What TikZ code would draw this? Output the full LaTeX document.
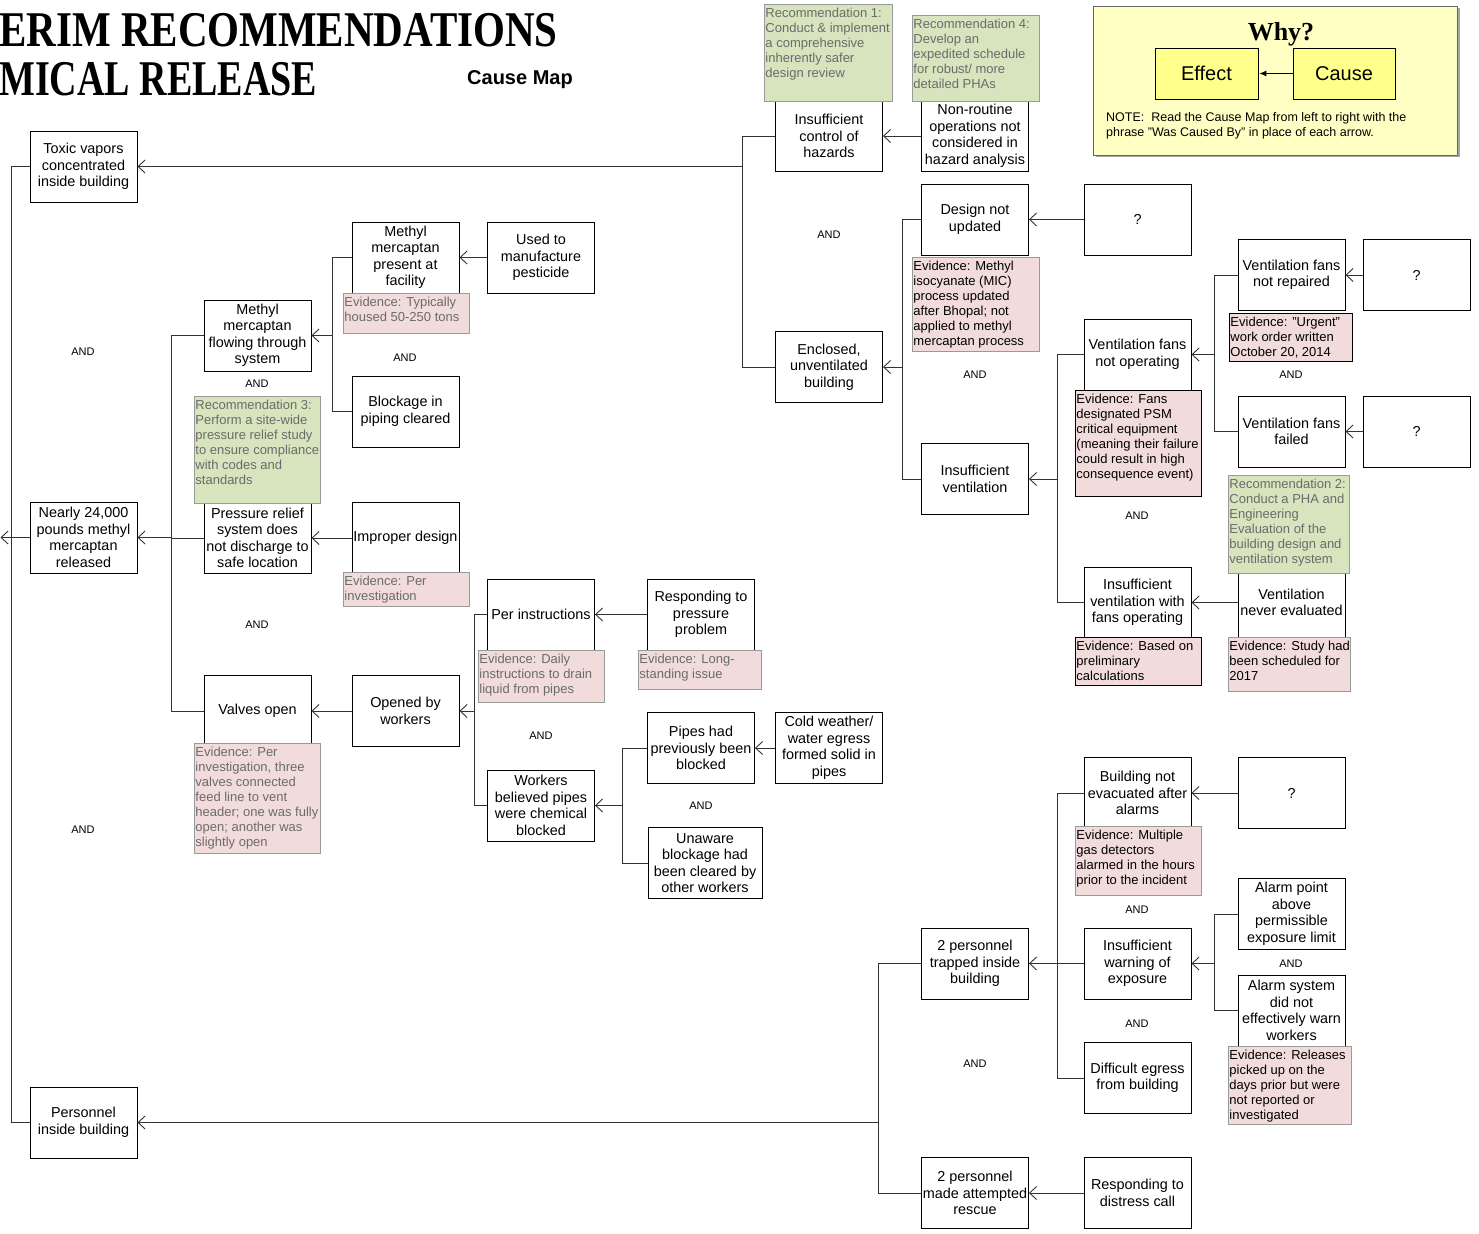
\documentclass[tikz,border=0pt]{standalone}
\usepackage{fontspec}
\setmainfont{Liberation Sans}
\newfontfamily\tserif{Liberation Serif}
\usetikzlibrary{arrows.meta}
\definecolor{evpink}{HTML}{F2DCDB}
\definecolor{recgreen}{HTML}{D7E4BD}
\definecolor{edgegray}{HTML}{9A9A9A}
\definecolor{txtgray}{HTML}{6B6B6B}
\definecolor{legfill}{HTML}{FFFFC4}
\definecolor{legbox}{HTML}{FFFF8C}
\tikzset{
  cbox/.style={draw=black, line width=0.9pt, fill=white, minimum width=107pt, minimum height=71pt, inner sep=1pt, align=center, font=\fontsize{14.4}{16.5}\selectfont},
  link/.style={draw=black!80, line width=0.9pt},
  arr/.style={link, -{Straight Barb[length=7pt,width=13pt,line width=0.9pt]}},
  andlbl/.style={font=\fontsize{11}{13}\selectfont, inner sep=0pt},
  evg/.style={draw=edgegray, fill=evpink, text=txtgray, line width=0.9pt},
  evk/.style={draw=edgegray, fill=evpink, text=black, line width=0.9pt},
  evb/.style={draw=black, fill=evpink, text=black, line width=0.9pt},
  rec/.style={draw=edgegray, fill=recgreen, text=txtgray, line width=0.9pt},
}
\newcommand{\notebox}[7]{\node[#6, anchor=north west, inner sep=0pt, font=\fontsize{13}{15}\selectfont] (#1) at (#2,#3) {\parbox[t][\dimexpr #5pt-#3pt\relax][t]{\dimexpr #4pt-#2pt\relax}{\raggedright\leftskip=1pt\rule{0pt}{13pt}#7}};}
\begin{document}
\begin{tikzpicture}[x=1pt,y=-1pt]
\useasboundingbox (0,0) rectangle (1479,1233);
\fill[white] (0,0) rectangle (1479,1233);

% title
\node[anchor=base west, inner sep=0] (title1) at (-1,47) {\scalebox{0.82}[1]{\tserif\bfseries\fontsize{50}{50}\selectfont ERIM RECOMMENDATIONS}};
\node[anchor=base west, inner sep=0] (title2) at (-1,96) {\scalebox{0.76}[1]{\tserif\bfseries\fontsize{50}{50}\selectfont MICAL RELEASE}};
\node[inner sep=0, font=\bfseries\fontsize{20}{24}\selectfont] (causemap) at (520,80) {Cause Map};

% legend
\node[fill=black!35, minimum width=364pt, minimum height=149pt, inner sep=0] (legshadow) at (1277.5,83) {};
\node[draw=black!60, fill=legfill, line width=0.8pt, minimum width=364pt, minimum height=149pt, inner sep=0] (legend) at (1275,80.5) {};
\node[inner sep=0, font=\tserif\bfseries\fontsize{26}{30}\selectfont] (why) at (1281,34) {Why?};
\node[draw=black, fill=legbox, line width=0.8pt, minimum width=103pt, minimum height=51pt, inner sep=0, font=\fontsize{20}{24}\selectfont] (effect) at (1206.5,73.5) {Effect};
\node[draw=black, fill=legbox, line width=0.8pt, minimum width=102pt, minimum height=51pt, inner sep=0, font=\fontsize{20}{24}\selectfont] (cause) at (1344,73.5) {Cause};
\draw[black, line width=0.9pt, -{Latex[length=7pt,width=6pt]}, shorten >=1pt] (cause.west) -- (effect.east);
\node[anchor=north west, align=left, inner sep=0, font=\fontsize{12.5}{15}\selectfont] (note) at (1106,112) {NOTE:\ \ Read the Cause Map from left to right with the\\phrase "Was Caused By" in place of each arrow.};

% boxes
\node[cbox] (toxic) at (83.5,166.5) {Toxic vapors\\concentrated\\inside building};
\node[cbox] (nearly) at (83.5,537.5) {Nearly 24,000\\pounds methyl\\mercaptan\\released};
\node[cbox] (personnel) at (83.5,1122.5) {Personnel\\inside building};
\node[cbox] (mflow) at (257.5,335.5) {Methyl\\mercaptan\\flowing through\\system};
\node[cbox] (prelief) at (257.5,538) {Pressure relief\\system does\\not discharge to\\safe location};
\node[cbox] (valves) at (257.5,711) {Valves open};
\node[cbox] (mpresent) at (405.5,257.5) {Methyl\\mercaptan\\present at\\facility};
\node[cbox] (blockage) at (405.5,411.5) {Blockage in\\piping cleared};
\node[cbox] (used) at (541,257.5) {Used to\\manufacture\\pesticide};
\node[cbox] (improper) at (405.5,538) {Improper design};
\node[cbox] (opened) at (405.5,711) {Opened by\\workers};
\node[cbox] (perinstr) at (541,614.5) {Per instructions};
\node[cbox] (workers) at (541,805.5) {Workers\\believed pipes\\were chemical\\blocked};
\node[cbox] (responding) at (701,614.5) {Responding to\\pressure\\problem};
\node[cbox] (pipes) at (701,748) {Pipes had\\previously been\\blocked};
\node[cbox, minimum width=114pt] (unaware) at (705,863) {Unaware\\blockage had\\been cleared by\\other workers};
\node[cbox] (cold) at (829,748) {Cold weather/\\water egress\\formed solid in\\pipes};
\node[cbox] (control) at (829,136) {Insufficient\\control of\\hazards};
\node[cbox] (enclosed) at (829,367) {Enclosed,\\unventilated\\building};
\node[cbox] (nonroutine) at (975,136) {Non-routine\\operations not\\considered in\\hazard analysis};
\node[cbox] (design) at (975,219.5) {Design not\\updated};
\node[cbox] (insvent) at (975,479) {Insufficient\\ventilation};
\node[cbox] (q1) at (1137.5,219.5) {?};
\node[cbox] (fansnot) at (1137.5,354.5) {Ventilation fans\\not operating};
\node[cbox] (fansop) at (1137.5,602.5) {Insufficient\\ventilation with\\fans operating};
\node[cbox] (never) at (1291.5,602.5) {Ventilation\\never evaluated};
\node[cbox] (notrepaired) at (1291.5,275) {Ventilation fans\\not repaired};
\node[cbox] (failed) at (1291.5,431.5) {Ventilation fans\\failed};
\node[cbox] (q2) at (1416.5,275) {?};
\node[cbox] (q3) at (1416.5,431.5) {?};
\node[cbox] (trapped) at (975,963.5) {2 personnel\\trapped inside\\building};
\node[cbox] (rescue) at (975,1193) {2 personnel\\made attempted\\rescue};
\node[cbox] (distress) at (1137.5,1193) {Responding to\\distress call};
\node[cbox] (notevac) at (1137.5,793) {Building not\\evacuated after\\alarms};
\node[cbox] (warning) at (1137.5,963.5) {Insufficient\\warning of\\exposure};
\node[cbox] (egress) at (1137.5,1078) {Difficult egress\\from building};
\node[cbox] (q4) at (1291.5,793) {?};
\node[cbox] (alarmpt) at (1291.5,914) {Alarm point\\above\\permissible\\exposure limit};
\node[cbox] (alarmsys) at (1291.5,1010.5) {Alarm system\\did not\\effectively warn\\workers};

% junctions
\coordinate (out) at (0.5,537.5);
\coordinate (b0) at (11,537.5);
\coordinate (b1) at (171,537.5);
\coordinate (b2) at (332,335.5);
\coordinate (b3) at (474,711);
\coordinate (b4) at (622,805.5);
\coordinate (b5) at (742,166.5);
\coordinate (b6) at (902,367);
\coordinate (b7) at (1057,479);
\coordinate (b8) at (1214,354.5);
\coordinate (b9) at (878,1122.5);
\coordinate (b10) at (1057,963.5);
\coordinate (b11) at (1214,963.5);

% connectors
\draw[link] (toxic.west) -| (b0);
\draw[link] (personnel.west) -| (b0);
\draw[arr] (nearly.west) -- (out);

\draw[link] (mflow.west) -| (b1);
\draw[link] (prelief.west) -| (b1);
\draw[link] (valves.west) -| (b1);
\draw[arr] (b1) -- (nearly.east);

\draw[link] (mpresent.west) -| (b2);
\draw[link] (blockage.west) -| (b2);
\draw[arr] (b2) -- (mflow.east);
\draw[arr] (used.west) -- (mpresent.east);
\draw[arr] (improper.west) -- (prelief.east);
\draw[arr] (opened.west) -- (valves.east);

\draw[link] (perinstr.west) -| (b3);
\draw[link] (workers.west) -| (b3);
\draw[arr] (b3) -- (opened.east);
\draw[arr] (responding.west) -- (perinstr.east);

\draw[link] (pipes.west) -| (b4);
\draw[link] (unaware.west) -| (b4);
\draw[arr] (b4) -- (workers.east);
\draw[arr] (cold.west) -- (pipes.east);

\draw[link] (control.west) -| (b5);
\draw[link] (enclosed.west) -| (b5);
\draw[arr] (b5) -- (toxic.east);
\draw[arr] (nonroutine.west) -- (control.east);

\draw[link] (design.west) -| (b6);
\draw[link] (insvent.west) -| (b6);
\draw[arr] (b6) -- (enclosed.east);
\draw[arr] (q1.west) -- (design.east);

\draw[link] (fansnot.west) -| (b7);
\draw[link] (fansop.west) -| (b7);
\draw[arr] (b7) -- (insvent.east);
\draw[arr] (never.west) -- (fansop.east);

\draw[link] (notrepaired.west) -| (b8);
\draw[link] (failed.west) -| (b8);
\draw[arr] (b8) -- (fansnot.east);
\draw[arr] (q2.west) -- (notrepaired.east);
\draw[arr] (q3.west) -- (failed.east);

\draw[link] (trapped.west) -| (b9);
\draw[link] (rescue.west) -| (b9);
\draw[arr] (b9) -- (personnel.east);
\draw[arr] (distress.west) -- (rescue.east);

\draw[link] (notevac.west) -| (b10);
\draw[link] (warning.west) -| (b10);
\draw[link] (egress.west) -| (b10);
\draw[arr] (b10) -- (trapped.east);
\draw[arr] (q4.west) -- (notevac.east);

\draw[link] (alarmpt.west) -| (b11);
\draw[link] (alarmsys.west) -| (b11);
\draw[arr] (b11) -- (warning.east);

% AND labels
\node[andlbl] (and1) at (83,352) {AND};
\node[andlbl] (and2) at (83,830) {AND};
\node[andlbl] (and3) at (257,384) {AND};
\node[andlbl] (and4) at (405,358) {AND};
\node[andlbl] (and5) at (257,625) {AND};
\node[andlbl] (and6) at (541,736) {AND};
\node[andlbl] (and7) at (701,806) {AND};
\node[andlbl] (and8) at (829,235) {AND};
\node[andlbl] (and9) at (975,375) {AND};
\node[andlbl] (and10) at (1137,516) {AND};
\node[andlbl] (and11) at (1291,375) {AND};
\node[andlbl] (and12) at (1137,910) {AND};
\node[andlbl] (and13) at (1137,1024) {AND};
\node[andlbl] (and14) at (1291,964) {AND};
\node[andlbl] (and15) at (975,1064) {AND};

% recommendations
\notebox{rec1}{764}{4}{892}{101}{rec}{Recommendation 1:\\Conduct \& implement\\a comprehensive\\inherently safer\\design review}
\notebox{rec4}{912}{15}{1039}{101}{rec}{Recommendation 4:\\Develop an\\expedited schedule\\for robust/ more\\detailed PHAs}
\notebox{rec3}{194}{396}{320}{503}{rec}{Recommendation 3:\\Perform a site-wide\\pressure relief study\\to ensure compliance\\with codes and\\standards}
\notebox{rec2}{1228}{475}{1349}{573}{rec}{Recommendation 2:\\Conduct a PHA and\\Engineering\\Evaluation of the\\building design and\\ventilation system}

% evidence
\notebox{ev1}{343}{293}{469}{333}{evg}{Evidence: Typically\\housed 50-250 tons}
\notebox{ev2}{343}{572}{469}{606}{evg}{Evidence: Per\\investigation}
\notebox{ev3}{194}{743}{320}{853}{evg}{Evidence: Per\\investigation, three\\valves connected\\feed line to vent\\header; one was fully\\open; another was\\slightly open}
\notebox{ev4}{478}{650}{604}{702}{evg}{Evidence: Daily\\instructions to drain\\liquid from pipes}
\notebox{ev5}{638}{650}{761}{689}{evg}{Evidence: Long-\\standing issue}
\notebox{ev6}{912}{257}{1039}{351}{evk}{Evidence: Methyl\\isocyanate (MIC)\\process updated\\after Bhopal; not\\applied to methyl\\mercaptan process}
\notebox{ev7}{1075}{390}{1201}{496}{evb}{Evidence: Fans\\designated PSM\\critical equipment\\(meaning their failure\\could result in high\\consequence event)}
\notebox{ev8}{1229}{313}{1352}{361}{evb}{Evidence: "Urgent"\\work order written\\October 20, 2014}
\notebox{ev9}{1075}{637}{1201}{685}{evb}{Evidence: Based on\\preliminary\\calculations}
\notebox{ev10}{1228}{637}{1350}{691}{evk}{Evidence: Study had\\been scheduled for\\2017}
\notebox{ev11}{1075}{826}{1201}{895}{evk}{Evidence: Multiple\\gas detectors\\alarmed in the hours\\prior to the incident}
\notebox{ev12}{1228}{1046}{1351}{1124}{evk}{Evidence: Releases\\picked up on the\\days prior but were\\not reported or\\investigated}
\end{tikzpicture}
\end{document}
